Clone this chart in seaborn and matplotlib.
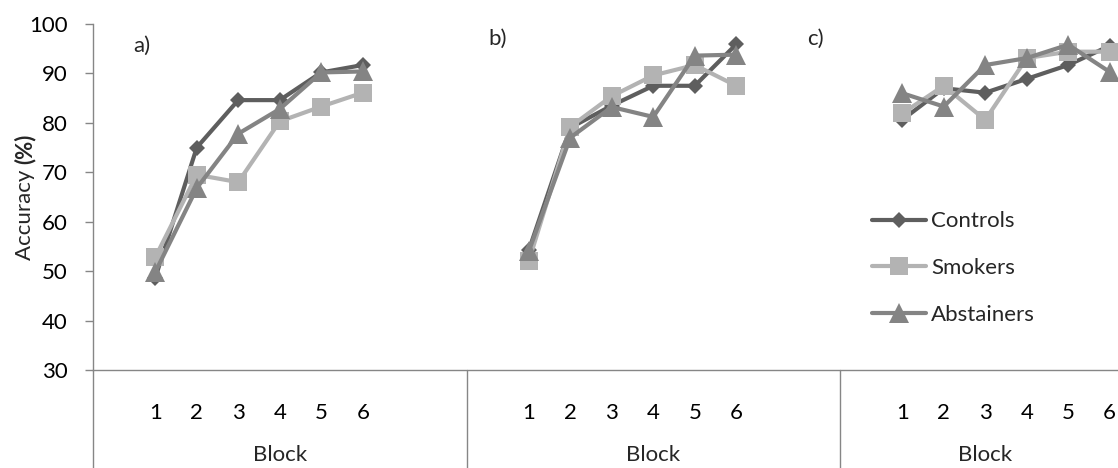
import matplotlib
matplotlib.use("Agg")
import matplotlib.pyplot as plt
import matplotlib.lines as mlines
import matplotlib.transforms as mtransforms
import numpy as np
import pandas as pd
import seaborn as sns

# ---- data -------------------------------------------------------------
panels = ["a)", "b)", "c)"]
blocks = [1, 2, 3, 4, 5, 6]
groups = ["Controls", "Smokers", "Abstainers"]

controls_a = [48.6, 75.0, 84.6, 84.6, 90.2, 91.7]
smokers_a = [52.8, 69.5, 68.0, 80.3, 83.3, 86.1]
abstainers_a = [49.8, 66.8, 77.8, 82.8, 90.2, 90.4]

controls_b = [54.2, 79.0, 83.5, 87.5, 87.5, 95.9]
smokers_b = [52.0, 79.2, 85.4, 89.6, 91.7, 87.5]
abstainers_b = [54.0, 77.0, 83.2, 81.2, 93.6, 93.8]

controls_c = [80.6, 87.0, 86.1, 88.9, 91.7, 95.6]
smokers_c = [81.9, 87.5, 80.6, 93.1, 94.4, 94.4]
abstainers_c = [86.0, 83.3, 91.7, 93.1, 95.8, 90.3]

y_ticks = [30, 40, 50, 60, 70, 80, 90, 100]

series = {
    "Controls": [controls_a, controls_b, controls_c],
    "Smokers": [smokers_a, smokers_b, smokers_c],
    "Abstainers": [abstainers_a, abstainers_b, abstainers_c],
}

# ---- styling ----------------------------------------------------------
sns.set_style("white")
plt.rcParams["font.family"] = ["Lato", "DejaVu Sans"]
FS = 16
AXIS_GREY = "#868686"

styles = {
    "Controls": dict(color="#5e5e5e", marker="D", markersize=8.4),
    "Smokers": dict(color="#b3b3b3", marker="s", markersize=13),
    "Abstainers": dict(color="#848484", marker="^", markersize=14),
}

# each panel occupies 9 category slots on a shared axis (the last one 7),
# with an empty slot before block 1
panel_offsets = [0, 9, 18]
panel_spans = [(0, 9), (9, 18), (18, 25)]
n_slots = 25

W, H = 1118, 468
fig = plt.figure(figsize=(W / 100, H / 100), dpi=100)
ax = fig.add_axes([93 / W, 98 / H, (1130.5 - 93) / W, 346 / H])

rows = []
for gname, per_panel in series.items():
    for p, (panel, vals) in enumerate(zip(panels, per_panel)):
        for b, v in zip(blocks, vals):
            rows.append(dict(group=gname, panel=panel,
                             x=panel_offsets[p] + b + 0.5, acc=v))
df = pd.DataFrame(rows)

for gname in groups:
    st = styles[gname]
    for panel in panels:
        sub = df[(df.group == gname) & (df.panel == panel)]
        sns.lineplot(data=sub, x="x", y="acc", ax=ax, color=st["color"],
                     marker=st["marker"], markersize=st["markersize"],
                     markeredgewidth=0, linewidth=3.0, sort=False,
                     legend=False, clip_on=False)

ax.set_xlim(0, n_slots)
ax.set_ylim(30, 100)
ax.set_xlabel("")
ax.set_ylabel("")

# y axis
ax.set_yticks(y_ticks)
ax.set_yticklabels([str(t) for t in y_ticks], fontsize=FS, color="black")
ax.tick_params(axis="y", direction="out", length=6, width=1.0,
               color=AXIS_GREY, pad=12, left=True)

# x axis: block numbers under each panel
xt, xl = [], []
for off in panel_offsets:
    for b in blocks:
        xt.append(off + b + 0.5)
        xl.append(str(b))
ax.set_xticks(xt)
ax.set_xticklabels(xl, fontsize=FS, color="black")
ax.tick_params(axis="x", length=0, pad=24, bottom=True)

for side in ["top", "right"]:
    ax.spines[side].set_visible(False)
for side in ["left", "bottom"]:
    ax.spines[side].set_color(AXIS_GREY)
    ax.spines[side].set_linewidth(1.0)

# group dividers and outer category lines below the axis
trans = mtransforms.blended_transform_factory(ax.transData, ax.transAxes)
for xpos in [0] + panel_offsets[1:]:
    ax.plot([xpos, xpos], [0, -0.3], transform=trans, color=AXIS_GREY,
            lw=1.0, clip_on=False)

# "Block" category labels
for lo, hi in panel_spans:
    ax.text((lo + hi) / 2, -0.2457, "Block", transform=trans,
            ha="center", va="center", fontsize=FS)

# panel letters
panel_pos = [(133, 46), (488, 39), (807, 39)]
for lab, (px, py) in zip(panels, panel_pos):
    fig.text(px / W, 1 - py / H, lab, ha="left", va="center", fontsize=FS)

# y axis title with bold unit, centred on the plotting area
renderer = fig.canvas.get_renderer()
t1 = fig.text(0, 0, "Accuracy ", rotation=90, ha="center", va="bottom",
              fontsize=FS)
t2 = fig.text(0, 0, "(%)", rotation=90, ha="center", va="bottom",
              fontsize=FS, fontweight="bold")
h1 = t1.get_window_extent(renderer).height
h2 = t2.get_window_extent(renderer).height
y_mid = 468 - 197
y_start = y_mid - (h1 + h2) / 2
t1.set_position((25 / W, y_start / H))
t2.set_position((25 / W, (y_start + h1) / H))

# legend
handles = [mlines.Line2D([], [], color=styles[g]["color"],
                         marker=styles[g]["marker"],
                         markersize=styles[g]["markersize"],
                         markeredgewidth=0, linewidth=3.0) for g in groups]
fig.legend(handles, groups, loc="center left",
           bbox_to_anchor=(872 / W, 1 - 268 / H),
           frameon=False, fontsize=FS, handlelength=2.45,
           handletextpad=0.2, labelspacing=1.2, borderpad=0,
           borderaxespad=0)

fig.savefig("out.png", dpi=100)
